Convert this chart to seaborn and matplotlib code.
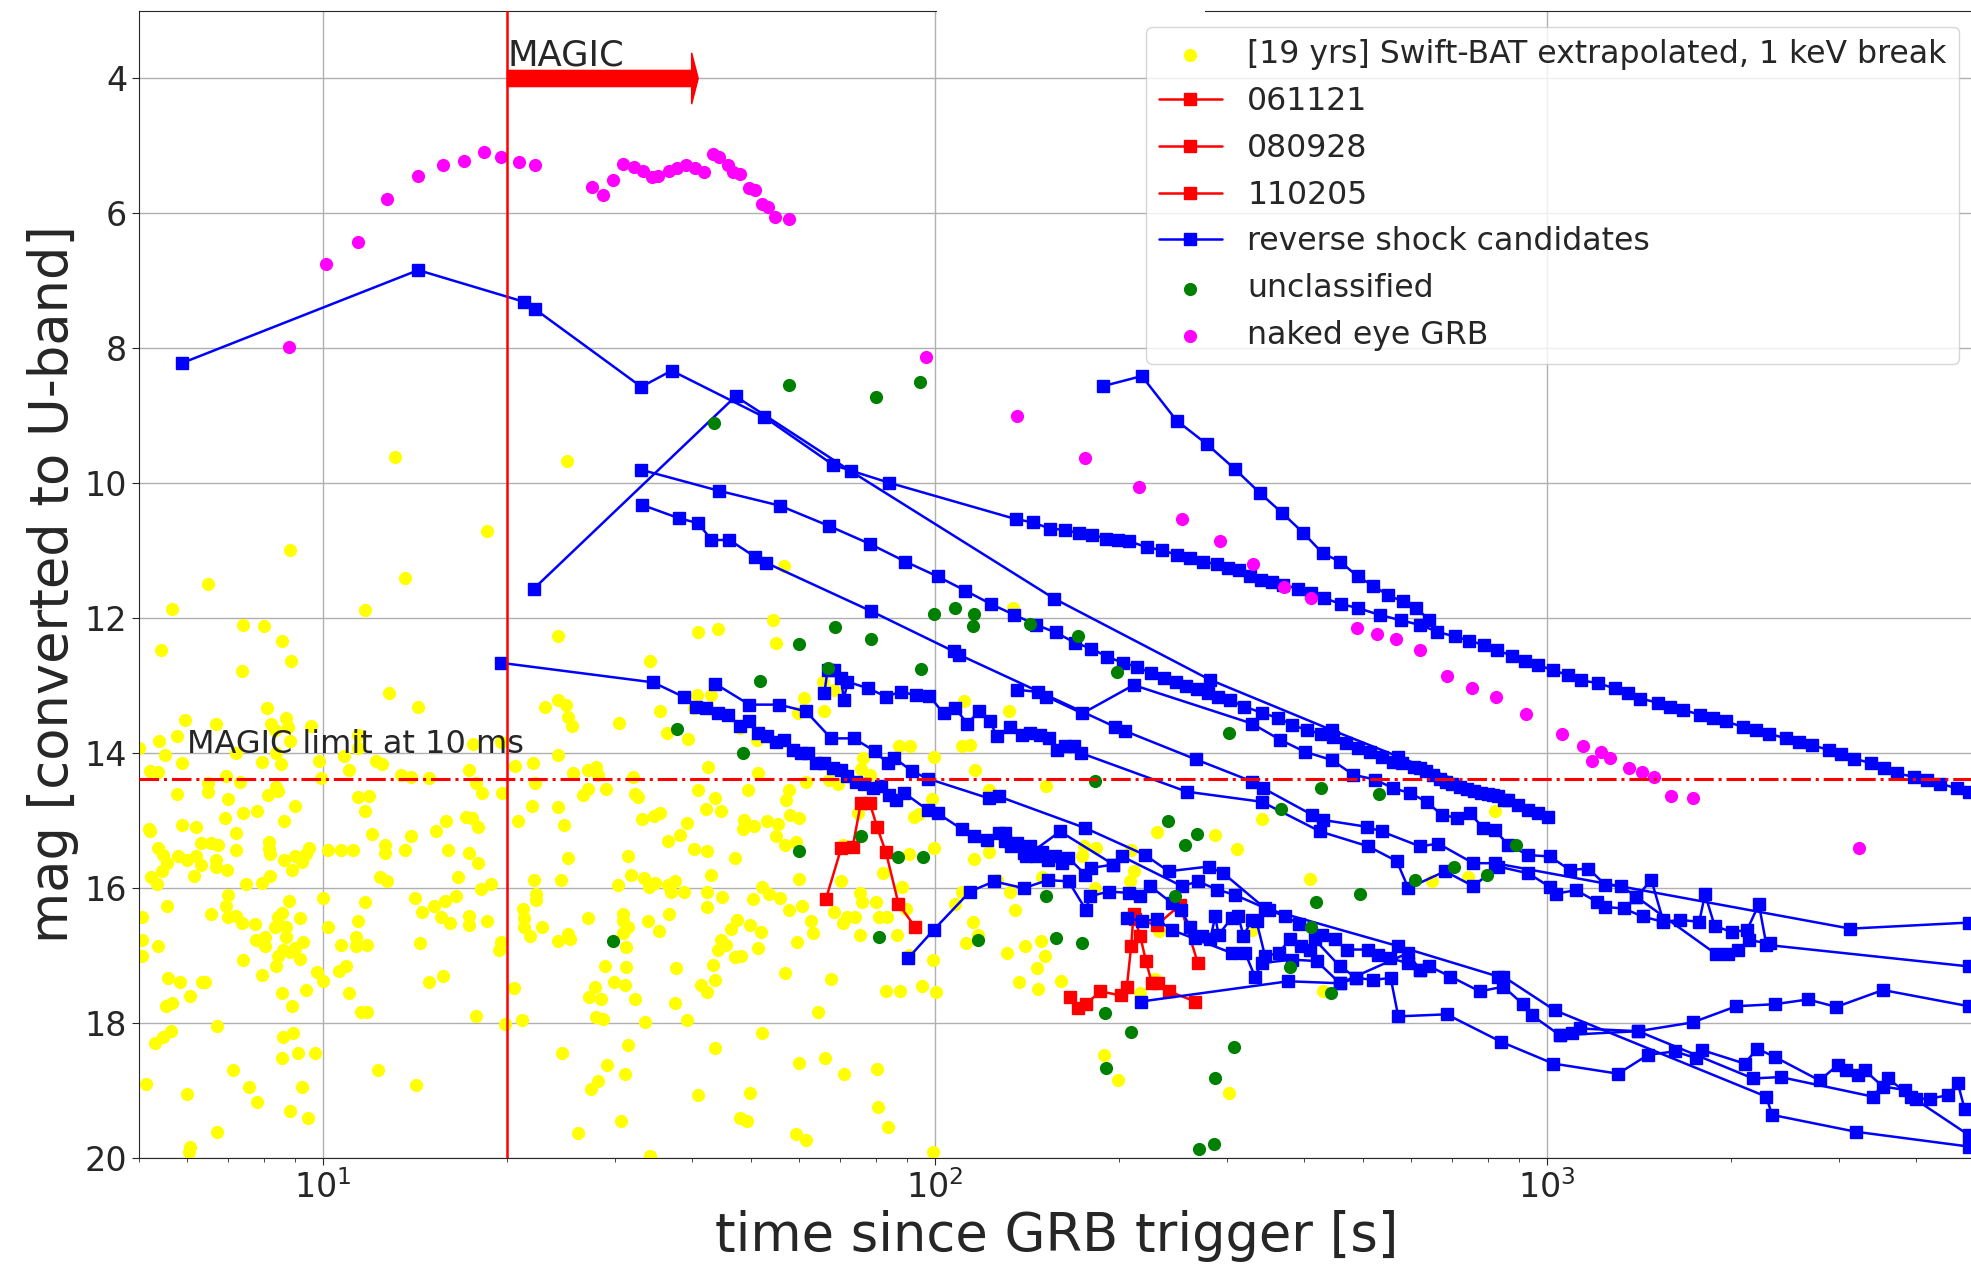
import numpy as np
import pandas as pd
import matplotlib
matplotlib.use("Agg")
import matplotlib.pyplot as plt
from matplotlib.patches import Rectangle
import seaborn as sns

# ---------------- data ----------------
# Swift-BAT extrapolated prompt magnitudes: time [s], mag
bat_t = [13.1, 8.82, 6.48, 5.66, 18.5, 13.6, 11.7, 7.39, 8.0, 8.55, 5.43, 8.87, 7.36, 12.8, 14.3, 8.10, 5.95, 6.67,
         8.22, 8.68, 8.77, 9.55, 8.33, 5.39, 5.77, 5.0, 8.82, 11.4, 11.4, 17.6, 19.5, 5.51, 7.19, 8.38, 10.8, 5.88,
         7.93, 8.53, 9.83, 12.2, 12.5, 17.3, 20.6, 22.0, 5.22, 5.37, 11.0, 6.94, 9.9, 7.30, 13.4, 13.9, 14.9, 17.8,
         22.2, 6.49, 6.49, 8.36, 8.45, 5.77, 7.0, 8.11, 11.4, 11.9, 18.2, 19.6, 23.0, 25.0,
         9.01, 11.7, 5.19, 5.22, 5.87, 6.19, 6.91, 7.40, 7.80, 8.63, 7.19, 5.38, 5.47, 5.56, 5.79, 6.00, 6.19, 6.31,
         6.31, 6.55, 6.73, 6.67, 6.67, 6.96, 7.19, 6.14, 5.24, 5.36, 5.45, 7.49, 7.93, 8.18, 8.16, 8.15, 8.20, 8.62,
         9.01, 9.24, 9.36, 9.48, 8.90, 10.2, 10.7, 11.2, 12.0, 12.6, 12.6, 12.4, 12.7, 13.6, 13.9, 15.3, 15.9, 17.1,
         17.5, 17.9, 16.0, 17.3, 17.9, 16.6, 18.8, 18.1, 20.8, 21.9, 22.1, 22.3, 22.3, 21.2, 21.3, 21.3, 21.8, 22.8,
         19.5, 19.4, 20.5, 17.8, 19.8, 21.1, 5.05, 5.05, 5.05, 5.55, 5.38, 6.55, 6.94, 7.00, 6.98, 7.20, 7.36, 7.74,
         7.40, 7.77, 8.04, 8.02, 7.95, 8.34, 8.44, 8.55, 8.68, 8.70, 8.79, 9.15, 8.44, 8.60, 8.83, 9.01, 9.15, 9.28,
         8.38, 5.58, 5.83, 6.33, 6.42, 6.07, 5.54, 5.67, 8.55, 8.90, 9.39, 9.78, 10.0, 10.0, 10.2, 10.7, 10.6, 10.9,
         11.3, 11.3, 11.8, 11.4, 11.7, 11.0, 11.55, 11.8, 14.1, 14.5, 15.2, 15.8, 16.5, 15.6, 16.1, 17.3, 17.3, 18.5,
         14.4, 14.9, 15.7, 6.71, 5.31, 5.47, 5.65, 5.14, 5.98, 7.12, 7.56, 7.81, 8.60, 8.91, 8.58, 9.08, 9.70, 9.24,
         8.84, 9.44, 6.71, 6.07, 6.03, 12.3, 14.2,
         56.7, 24.2, 40.9, 44.2, 54.4, 54.9, 34.2, 40.8, 43.0, 24.2, 24.9, 25.1, 25.5, 35.5, 30.4, 36.4, 39.4, 47.9,
         51.2, 40.4, 61.0, 59.6, 65.9, 68.4, 65.5, 111.3, 110.8, 114.0, 87.4, 91.0, 99.4, 116.1, 76.3, 75.6, 78.2,
         24.2, 25.6, 27.1, 27.9, 28.1, 32.1, 42.5, 51.3, 27.1, 26.6, 29.0, 32.3, 32.7, 40.9, 43.6, 42.2, 44.6, 49.4,
         57.7, 57.0, 61.5, 67.1, 69.3, 24.2, 24.7, 33.2, 34.7, 35.5, 39.3, 38.3, 36.6, 48.7, 48.5, 50.6, 53.2, 55.4,
         58.0, 60.0, 54.9, 56.9, 59.2, 40.4, 42.4, 31.5, 25.1, 47.0, 92.4, 94.2, 98.8, 122.5, 99.4, 90.5, 70.6, 74.7,
         115.8, 122.5,
         24.5, 30.3, 31.8, 33.4, 34.1, 34.9, 36.6, 37.6, 37.0, 38.9, 42.4, 43.1, 44.8, 42.3, 50.4, 52.2, 53.6, 55.8,
         59.8, 57.6, 60.6, 62.7, 63.1, 59.4, 70.2, 68.4, 70.6, 71.7, 74.0, 75.4, 75.8, 80.0, 81.0, 83.4, 75.4, 86.6,
         88.1, 89.6, 82.3, 110.5, 107.8, 115.5, 117.7, 112.2, 126.1, 99.0, 95.3, 100.4, 83.1, 87.6, 90.7, 27.1, 25.1,
         25.3, 24.2, 30.9, 30.9, 31.5, 30.9, 31.2, 34.0, 35.4, 36.8, 28.9, 31.2, 31.1, 32.3, 37.7, 37.6, 39.3, 29.9,
         27.8, 27.2, 28.4, 27.9, 28.7, 33.6, 41.4, 42.3, 43.6, 43.4, 44.7, 45.5, 44.2, 46.4, 47.4, 47.0, 48.2, 49.8,
         51.9, 51.3, 56.9, 67.6, 64.3, 52.1, 43.6, 24.6, 31.5, 29.1, 31.1, 28.1, 27.4, 40.9, 49.9, 60.0, 66.1, 70.9,
         80.3, 80.5, 83.6, 59.2, 61.6, 47.9, 49.3, 30.7, 26.1, 34.2, 99.2,
         131.8, 151.9, 341.7, 230.6, 286.7, 311.1, 209.1, 183.0, 174.8, 173.7, 210.9, 208.3, 409.7, 149.4, 132.7,
         134.9, 182.6, 647.5, 743.0, 329.2, 231.7, 131.0, 140.0, 149.1, 151.4, 146.7, 136.9, 147.2, 160.7, 216.3,
         228.8, 430.8, 188.4, 198.9, 301.5, 821.0, 134.0]
bat_mag = [9.61, 10.99, 11.49, 11.87, 10.70, 11.41, 11.88, 12.10, 12.12, 12.34, 12.47, 12.64, 12.78, 13.11, 13.31,
           13.33, 13.51, 13.56, 13.56, 13.48, 13.61, 13.59, 13.65, 13.82, 13.75, 13.92, 13.82, 13.73, 13.92, 13.86,
           13.83, 14.02, 14.00, 14.00, 14.04, 14.15, 14.13, 14.16, 14.11, 14.12, 14.16, 14.25, 14.19, 14.14, 14.26,
           14.28, 14.25, 14.34, 14.37, 14.42, 14.33, 14.35, 14.37, 14.44, 14.44, 14.44, 14.58, 14.50, 14.56, 14.60,
           14.68, 14.62, 14.65, 14.64, 14.59, 14.59, 13.32, 9.67,
           14.78, 14.85, 15.13, 15.16, 15.07, 15.10, 14.96, 14.89, 14.86, 15.00, 15.18, 15.41, 15.51, 15.63, 15.53,
           15.58, 15.53, 15.33, 15.65, 15.33, 15.36, 15.58, 15.68, 15.73, 15.44, 15.82, 15.84, 15.94, 15.74, 15.94,
           15.92, 15.82, 15.31, 15.42, 15.49, 15.59, 15.52, 15.61, 15.49, 15.40, 15.73, 15.43, 15.44, 15.43, 15.19,
           15.36, 15.48, 15.83, 15.90, 15.43, 15.22, 15.15, 15.01, 14.95, 14.96, 15.09, 15.44, 15.48, 15.62, 15.84,
           15.94, 16.01, 15.00, 14.78, 15.88, 16.08, 16.17, 16.31, 16.44, 16.57, 16.71, 16.57, 16.80, 16.91, 17.48,
           17.90, 18.01, 17.96, 16.43, 16.77, 17.01, 16.26, 16.86, 16.39, 16.26, 16.10, 16.43, 16.42, 16.51, 16.53,
           17.06, 16.77, 16.72, 16.86, 17.28, 16.57, 16.43, 16.37, 16.58, 16.72, 16.19, 16.44, 17.01, 16.91, 16.94,
           16.89, 17.05, 16.80, 17.16, 17.33, 17.39, 17.39, 17.39, 17.60, 17.74, 17.70, 17.55, 17.74, 17.51, 17.25,
           17.38, 16.15, 16.57, 16.84, 17.23, 17.15, 16.72, 16.86, 16.84, 16.48, 16.21, 17.55, 17.84, 17.84, 16.15,
           16.35, 16.27, 16.19, 16.11, 16.43, 16.51, 16.41, 16.54, 16.49, 16.81, 17.39, 17.30, 18.05, 18.29, 18.21,
           18.11, 18.91, 19.05, 18.70, 18.94, 19.17, 18.20, 18.14, 18.52, 18.44, 18.44, 18.94, 19.30, 19.41, 19.61,
           19.84, 19.91, 18.70, 18.92,
           11.23, 12.27, 12.21, 12.16, 12.03, 12.36, 12.63, 13.14, 13.13, 13.21, 13.29, 13.46, 13.59, 13.37, 13.55,
           13.70, 13.79, 13.63, 13.80, 13.33, 13.18, 13.41, 13.38, 13.06, 12.95, 13.22, 13.89, 13.88, 13.90, 13.90,
           14.06, 14.25, 14.07, 14.23, 14.32, 14.02, 14.30, 14.25, 14.21, 14.32, 14.36, 14.20, 14.30, 14.53, 14.62,
           14.53, 14.60, 14.65, 14.54, 14.67, 14.83, 14.85, 14.54, 14.54, 14.69, 14.42, 14.39, 14.45, 14.79, 15.07,
           14.97, 14.93, 14.88, 15.04, 15.21, 15.30, 14.99, 15.12, 15.08, 15.00, 15.05, 14.91, 14.96, 15.22, 15.36,
           15.32, 15.42, 15.45, 15.53, 15.55, 15.55, 14.94, 14.90, 14.68, 14.55, 15.41, 15.50, 15.36, 14.89, 15.57,
           15.46,
           15.88, 15.96, 15.80, 15.85, 15.99, 15.93, 15.95, 15.90, 16.06, 16.06, 16.05, 15.81, 16.13, 16.28, 16.16,
           15.99, 16.08, 16.15, 15.87, 16.33, 16.26, 16.48, 16.67, 16.80, 15.90, 16.36, 16.51, 16.43, 16.43, 16.07,
           16.20, 16.20, 16.43, 16.43, 16.69, 16.69, 15.99, 16.31, 15.78, 16.06, 16.23, 16.50, 16.69, 16.82, 15.88,
           17.07, 17.45, 17.54, 17.53, 17.53, 16.99, 16.44, 16.68, 16.76, 16.79, 16.38, 16.49, 16.57, 16.66, 16.87,
           16.48, 16.63, 16.38, 17.16, 17.17, 17.44, 17.65, 17.18, 17.70, 17.95, 17.39, 17.47, 17.61, 17.65, 17.91,
           17.94, 17.98, 17.43, 17.54, 17.36, 17.14, 16.77, 16.84, 16.91, 16.60, 16.47, 17.02, 17.01, 16.54, 16.65,
           16.89, 17.26, 17.34, 17.83, 18.14, 18.37, 18.45, 18.33, 18.62, 18.76, 18.86, 18.97, 19.07, 19.04, 18.59,
           18.52, 18.76, 18.68, 19.25, 19.54, 19.64, 19.74, 19.40, 19.45, 19.45, 19.63, 19.97, 19.91,
           13.37, 14.49, 14.97, 15.17, 15.21, 15.42, 15.43, 15.41, 15.38, 15.52, 15.75, 15.90, 15.86, 15.83, 16.05,
           16.33, 16.00, 15.89, 15.83, 16.62, 16.64, 16.96, 16.85, 16.79, 17.00, 17.18, 17.39, 17.49, 17.37, 17.55,
           17.35, 17.53, 18.48, 18.84, 19.04, 14.86, 11.85]

# individual bursts with optical flares: time [s], mag
grb061121_t = [66.3, 70.2, 73.3, 75.6, 78.2, 80.4, 83.1, 87.1, 92.6]
grb061121_mag = [16.16, 15.41, 15.39, 14.74, 14.74, 15.10, 15.47, 16.23, 16.57]
grb080928_t = [165.8, 170.9, 176.3, 186.1, 201.2, 205.7, 209.1, 210.9, 216.3, 221.0, 226.0, 231.2, 241.2, 266.0]
grb080928_mag = [17.62, 17.78, 17.72, 17.53, 17.59, 17.46, 16.85, 16.39, 16.71, 17.08, 17.41, 17.40, 17.53, 17.68]
grb110205_t = [212.0, 230.0, 251.3, 268.6]
grb110205_mag = [16.45, 16.55, 16.25, 17.11]

# reverse shock candidates (one light curve per list)
rs_t = [
    [5.87, 14.3, 21.3, 22.2, 33.1, 37.1, 52.6, 68.2, 84.0, 135.4, 144.5, 153.8, 162.8, 171.8, 180.7, 190.3, 199.2,
     207.7, 222.2, 234.8, 248.1, 261, 274, 288.4, 300.5, 313.4, 326.9, 341, 355.6, 370.7, 392, 411.6, 431.9, 460.7,
     491.3, 532.3, 577, 620, 661.5, 705.7, 746.5, 789.6, 828.7, 876.6, 920, 965.4, 1021, 1080, 1134, 1209, 1290,
     1353, 1420, 1515, 1590, 1669, 1779, 1867, 1959, 2090, 2193, 2301, 2455, 2576, 2704, 2884, 3026, 3176, 3386,
     3553, 3729, 3977, 4174, 4380, 4671, 4886],
    [22.1, 47.2, 72.8, 156.6, 280.9, 445.5, 571, 849],
    [188, 217.6, 248, 278, 309, 339, 369, 399, 430, 459, 490, 520, 550, 581, 611, 641],
    [33.1, 44.3, 55.7, 67.0, 78.3, 89.4, 100.9, 112, 123.4, 134.7, 146.4, 157.4, 169, 180, 191, 202.6, 214, 225,
     236.7, 247.7, 257.4, 267.3, 278.6, 289.6, 303, 319.8, 342, 363.4, 383.5, 405.3, 426.2, 446, 469, 491.6, 514.4,
     536.3, 559.4, 580, 605, 620, 635, 650, 668, 684, 700, 720, 740, 760, 780, 800, 815, 832, 864, 897, 931, 967,
     1004],
    [33.2, 38.2, 41.0, 43.1, 46.1, 50.8, 53.0, 78.4, 107.2, 109.4, 196.8, 204.2, 266.4, 329.7, 343.7, 412.4, 430.8,
     507, 536.4, 619.6, 663.8, 757.4, 821.3, 3128, 4887],
    [19.5, 34.6, 38.9, 40.7, 42.2, 44.1, 45.8, 47.9, 49.7, 51.3, 53.2, 54.9, 56.7, 58.5, 60.3, 61.9, 63.9, 65.9,
     68.0, 70.2, 71.9, 74.2, 76.6, 79.0, 81.5, 84.1, 86.3, 89.0, 97.2, 100.9, 110.8, 115.8, 121.7, 130, 135, 140.7,
     160, 195.6, 202, 253, 269, 288.5, 309, 351, 373, 393, 428, 450, 470, 510, 530, 553, 593, 619, 642, 695, 776,
     848, 913, 943, 1049, 1096, 1131, 1408, 1728, 2038, 2353, 2667, 2968, 3537, 4887],
    [43.7, 49.7, 55.6, 61.5, 67.6, 73.6, 79.7, 83.6, 85.7, 91.8, 97.5, 122.5, 127, 176, 220.4, 240.6, 279.7, 295.8,
     346, 571, 832, 848, 1029, 2281, 2330, 3192, 4887],
    [65.9, 66.7, 68.4, 70.2, 70.9, 71.9, 77.8, 83.1, 87.9, 93.0, 97.8, 103.2, 107.7, 112.9, 118.0, 123.0, 126.1,
     132.7, 138.6, 143, 148.5, 153.2, 158.1, 163.2, 168.4, 173.3, 257.7, 341.7, 425.6, 510, 568, 593, 681, 757,
     832, 931, 1010, 1035, 1115, 1204, 1243, 1333, 1432, 1548, 1650, 1772, 1811, 1878, 2003, 2121, 2218, 2281,
     4887],
    [90.3, 99.4, 114, 124.8, 139.5, 152.9, 165.2, 176.3, 179.2, 192, 207, 216, 224.5, 243.6, 252.3, 261, 266,
     272.7, 281.4, 286.8, 290.4, 305.3, 313, 319, 329, 335, 346, 364, 380, 396, 409, 417, 458.6, 488],
    [136, 147, 152, 174, 211, 329.2, 366, 402, 444.6, 482.4, 523.3, 560.6, 596.9, 635.3, 672, 711, 747.6, 786.5,
     821.3, 864, 931, 1010, 1089, 1167, 1245, 1322, 1399, 1480, 1546],
    [205.7, 217.7, 230.3, 243.6, 305, 321, 333, 341.7, 383, 420, 458.6, 593, 619],
    [217, 377.8, 458.6, 488, 520, 555, 571, 685, 842, 1023, 1306, 1462, 1616, 1753, 1791, 2102, 2204, 2353, 2787,
     2986, 3081, 3219, 3301, 3537, 3837, 4009, 4215, 4515, 4688, 4808],
    [1049, 1408, 2169, 2407, 3406, 3604, 3934, 4887],
    [1399, 1890, 1978, 2053, 2135, 2310],
    [127, 130, 133, 136, 139.5, 143, 146, 149.4, 153, 157, 161, 165, 176, 180, 195.6],
]
rs_mag = [
    [8.22, 6.84, 7.31, 7.42, 8.57, 8.33, 9.02, 9.73, 9.99, 10.53, 10.58, 10.67, 10.69, 10.74, 10.76, 10.82, 10.84,
     10.86, 10.95, 10.99, 11.06, 11.11, 11.16, 11.20, 11.25, 11.29, 11.37, 11.43, 11.46, 11.51, 11.56, 11.63,
     11.70, 11.79, 11.85, 11.95, 12.03, 12.10, 12.20, 12.27, 12.33, 12.40, 12.47, 12.56, 12.63, 12.69, 12.77,
     12.84, 12.92, 12.96, 13.04, 13.11, 13.19, 13.25, 13.31, 13.36, 13.43, 13.48, 13.53, 13.61, 13.66, 13.71,
     13.78, 13.83, 13.88, 13.95, 14.01, 14.08, 14.15, 14.22, 14.30, 14.35, 14.40, 14.45, 14.52, 14.57],
    [11.56, 8.71, 9.82, 11.71, 12.91, 13.66, 14.05, 14.69],
    [8.56, 8.41, 9.07, 9.42, 9.79, 10.14, 10.44, 10.73, 11.04, 11.16, 11.38, 11.52, 11.66, 11.75, 11.85, 12.02],
    [9.80, 10.11, 10.33, 10.63, 10.90, 11.16, 11.38, 11.59, 11.79, 11.95, 12.10, 12.21, 12.36, 12.45, 12.57, 12.66,
     12.72, 12.81, 12.89, 12.94, 13.00, 13.05, 13.11, 13.16, 13.21, 13.31, 13.40, 13.48, 13.58, 13.66, 13.71, 13.76,
     13.85, 13.93, 13.98, 14.05, 14.13, 14.15, 14.20, 14.22, 14.27, 14.33, 14.38, 14.42, 14.45, 14.50, 14.53,
     14.56, 14.59, 14.61, 14.62, 14.64, 14.69, 14.77, 14.84, 14.89, 14.94],
    [10.32, 10.52, 10.59, 10.84, 10.84, 11.09, 11.18, 11.89, 12.49, 12.54, 13.61, 13.67, 14.09, 14.42, 14.52, 14.91,
     14.99, 15.09, 15.16, 15.38, 15.34, 15.63, 15.63, 16.60, 16.51],
    [12.66, 12.95, 13.17, 13.31, 13.33, 13.41, 13.43, 13.59, 13.53, 13.70, 13.75, 13.83, 13.80, 13.95, 13.99, 13.99,
     14.15, 14.15, 14.22, 14.25, 14.34, 14.42, 14.45, 14.52, 14.48, 14.62, 14.69, 14.59, 14.84, 14.89, 15.13, 15.23,
     15.28, 15.18, 15.36, 15.53, 15.16, 15.65, 15.53, 15.97, 15.90, 16.02, 16.10, 16.32, 16.42, 16.53, 16.69, 16.76,
     16.91, 16.91, 16.99, 17.04, 17.11, 17.21, 17.16, 17.31, 17.53, 17.46, 17.72, 17.88, 18.18, 18.15, 18.08, 18.12,
     17.99, 17.75, 17.72, 17.65, 17.76, 17.51, 17.75],
    [12.97, 13.28, 13.28, 13.38, 13.78, 13.78, 13.97, 14.15, 14.07, 14.27, 14.38, 14.67, 14.64, 15.11, 15.51, 15.75,
     15.68, 15.78, 16.30, 16.86, 17.31, 17.31, 17.81, 19.09, 19.36, 19.61, 19.83],
    [13.11, 12.77, 12.77, 12.89, 13.21, 12.94, 13.04, 13.16, 13.09, 13.14, 13.15, 13.41, 13.33, 13.56, 13.38, 13.53,
     13.75, 13.61, 13.73, 13.70, 13.73, 13.78, 13.95, 13.90, 13.90, 14.00, 14.57, 14.72, 15.16, 15.38, 15.60, 16.00,
     15.75, 15.97, 15.68, 15.78, 15.98, 16.08, 16.03, 16.20, 16.28, 16.30, 16.42, 16.50, 16.47, 16.50, 16.09, 16.56,
     16.65, 16.62, 16.24, 16.84, 17.16],
    [17.04, 16.62, 16.05, 15.90, 16.00, 15.88, 15.90, 16.32, 16.12, 16.05, 16.07, 16.12, 15.97, 16.22, 16.33, 16.57,
     16.74, 16.71, 16.76, 16.42, 16.69, 16.44, 16.42, 16.71, 16.47, 16.49, 17.01, 16.96, 16.76, 16.86, 16.91, 16.76,
     17.16, 17.33],
    [13.06, 13.09, 13.16, 13.41, 12.99, 13.56, 13.80, 13.98, 14.10, 14.32, 14.39, 14.52, 14.59, 14.72, 14.91, 14.96,
     14.89, 15.11, 15.14, 15.36, 15.51, 15.53, 15.73, 15.71, 15.95, 15.97, 16.13, 15.88, 16.47],
    [16.44, 16.49, 16.46, 16.62, 16.96, 16.96, 17.31, 17.11, 17.06, 17.08, 17.41, 16.96, 17.21],
    [17.68, 17.38, 17.41, 17.33, 17.36, 17.33, 17.90, 17.87, 18.28, 18.60, 18.75, 18.47, 18.42, 18.52, 18.40, 18.60,
     18.38, 18.50, 18.85, 18.62, 18.70, 18.77, 18.70, 18.94, 18.99, 19.12, 19.12, 19.07, 18.89, 19.27],
    [18.18, 18.12, 18.82, 18.80, 19.09, 18.82, 19.09, 19.66],
    [16.13, 16.98, 16.97, 16.91, 16.77, 16.82],
    [15.18, 15.30, 15.38, 15.33, 15.48, 15.38, 15.53, 15.46, 15.58, 15.53, 15.63, 15.55, 15.80, 15.70, 15.65],
]

# optical emission without classification
uncl_t = [43.5, 57.8, 80.1, 94.5, 99.5, 107.9, 115.8, 115.2, 68.5, 60.0, 78.6, 94.9, 66.9, 51.8, 37.9, 48.5, 75.7,
          60.0, 86.8, 95.4, 29.8, 80.8, 117.4, 302.4, 182.3, 427, 530.7, 367, 239.9, 267.4, 256.2, 704.7, 608.5, 797,
          151.6, 246.7, 494.3, 419, 411, 157.4, 173.9, 379.5, 443.5, 189.3, 209.1, 308.1, 190.2, 287.1, 269.9, 285.8,
          888.6, 142.6, 171.4, 198.5]
uncl_mag = [9.11, 8.54, 8.72, 8.50, 11.93, 11.85, 11.93, 12.12, 12.13, 12.38, 12.30, 12.75, 12.73, 12.93, 13.64,
            14.00, 15.23, 15.45, 15.54, 15.54, 16.79, 16.73, 16.77, 13.70, 14.41, 14.52, 14.61, 14.82, 15.00, 15.19,
            15.36, 15.69, 15.88, 15.80, 16.12, 16.12, 16.08, 16.21, 16.57, 16.74, 16.81, 17.17, 17.56, 17.85, 18.13,
            18.36, 18.66, 18.82, 19.87, 19.79, 15.36, 12.08, 12.26, 12.80]

# naked eye burst
naked_t = [8.8, 10.1, 11.4, 12.7, 14.3, 15.7, 17.0, 18.3, 19.5, 20.9, 22.2, 27.5, 28.7, 29.8, 30.9, 32.2, 33.3,
           34.4, 35.3, 36.7, 37.9, 39.2, 40.5, 41.9, 43.3, 44.4, 45.8, 46.7, 48.0, 49.7, 50.8, 52.1, 53.3, 54.8, 57.8,
           96.7, 135.9, 176, 215, 253, 292, 330, 372, 411, 489, 527, 566, 620, 687, 755, 826, 925, 1056, 1145, 1184,
           1224, 1265, 1358, 1430, 1493, 1595, 1728, 3236]
naked_mag = [7.98, 6.75, 6.43, 5.78, 5.44, 5.28, 5.22, 5.09, 5.16, 5.24, 5.28, 5.61, 5.72, 5.50, 5.26, 5.31, 5.37,
             5.46, 5.44, 5.37, 5.33, 5.28, 5.33, 5.39, 5.12, 5.17, 5.28, 5.39, 5.41, 5.62, 5.66, 5.86, 5.90, 6.06,
             6.08, 8.13, 9.00, 9.62, 10.05, 10.53, 10.85, 11.20, 11.54, 11.70, 12.15, 12.23, 12.30, 12.47, 12.86,
             13.03, 13.16, 13.42, 13.72, 13.89, 14.11, 13.98, 14.07, 14.22, 14.28, 14.35, 14.63, 14.67, 15.41]

magic_start = 20.0      # MAGIC repositioning time [s]
magic_limit = 14.38     # MAGIC sensitivity for 10 ms exposures [mag]

# ---------------- figure ----------------
sns.set_style("ticks")
plt.rcParams["font.family"] = ["DejaVu Sans"]

fig = plt.figure(figsize=(19.71, 12.67), dpi=100)
ax = fig.add_axes([0.0705, 0.086, 0.9315, 0.9053])

line_kw = dict(sort=False, estimator=None, marker="s", markersize=8, markeredgewidth=1.0,
               linewidth=1.8, ax=ax, zorder=3)

sns.scatterplot(x=bat_t, y=bat_mag, color="yellow", s=90, linewidth=0, ax=ax, zorder=2,
                label="[19 yrs] Swift-BAT extrapolated, 1 keV break")

for t, m, name in [(grb061121_t, grb061121_mag, "061121"),
                   (grb080928_t, grb080928_mag, "080928"),
                   (grb110205_t, grb110205_mag, "110205")]:
    sns.lineplot(x=t, y=m, color="red", markeredgecolor="red", label=name, **line_kw)

for i, (t, m) in enumerate(zip(rs_t, rs_mag)):
    sns.lineplot(x=t, y=m, color="blue", markeredgecolor="blue",
                 label="reverse shock candidates" if i == 0 else None, **line_kw)

sns.scatterplot(x=uncl_t, y=uncl_mag, color="green", s=90, linewidth=0, ax=ax, zorder=4, label="unclassified")
sns.scatterplot(x=naked_t, y=naked_mag, color="magenta", s=90, linewidth=0, ax=ax, zorder=4,
                label="naked eye GRB")

# MAGIC reference marks
ax.axvline(magic_start, color="red", linewidth=1.8, zorder=5)
ax.axhline(magic_limit, color="red", linestyle="-.", linewidth=2.2, zorder=5)
ax.arrow(magic_start, 4.0, 20.0, 0.0, width=0.24, head_width=0.76, head_length=1.0,
         color="red", length_includes_head=False, zorder=5)
ax.text(magic_start, 3.8, "MAGIC", fontsize=25.5, ha="left", va="baseline")
ax.text(6.0, 14.0, "MAGIC limit at 10 ms", fontsize=23, ha="left", va="baseline")

ax.set_xscale("log")
ax.set_xlim(5, 5000)
ax.set_ylim(20, 3)
ax.set_yticks(np.arange(4, 21, 2))
ax.grid(True, which="major", color="#b0b0b0", linewidth=1.0)
ax.tick_params(axis="both", which="major", labelsize=24, length=5)
ax.tick_params(axis="x", which="minor", length=3)
ax.spines["right"].set_visible(False)
ax.set_xlabel("time since GRB trigger [s]", fontsize=38)
ax.set_ylabel("mag [converted to U-band]", fontsize=38)

handles, labels = ax.get_legend_handles_labels()
ax.legend(handles, labels, loc="upper right", fontsize=22.7, labelspacing=0.5, framealpha=0.8)

# gap in the frame line above the plot
fig.add_artist(Rectangle((0.4754, 0.986), 0.136, 0.01, transform=fig.transFigure,
                         facecolor="white", edgecolor="none", zorder=10))

fig.savefig("out.png", dpi=100)
